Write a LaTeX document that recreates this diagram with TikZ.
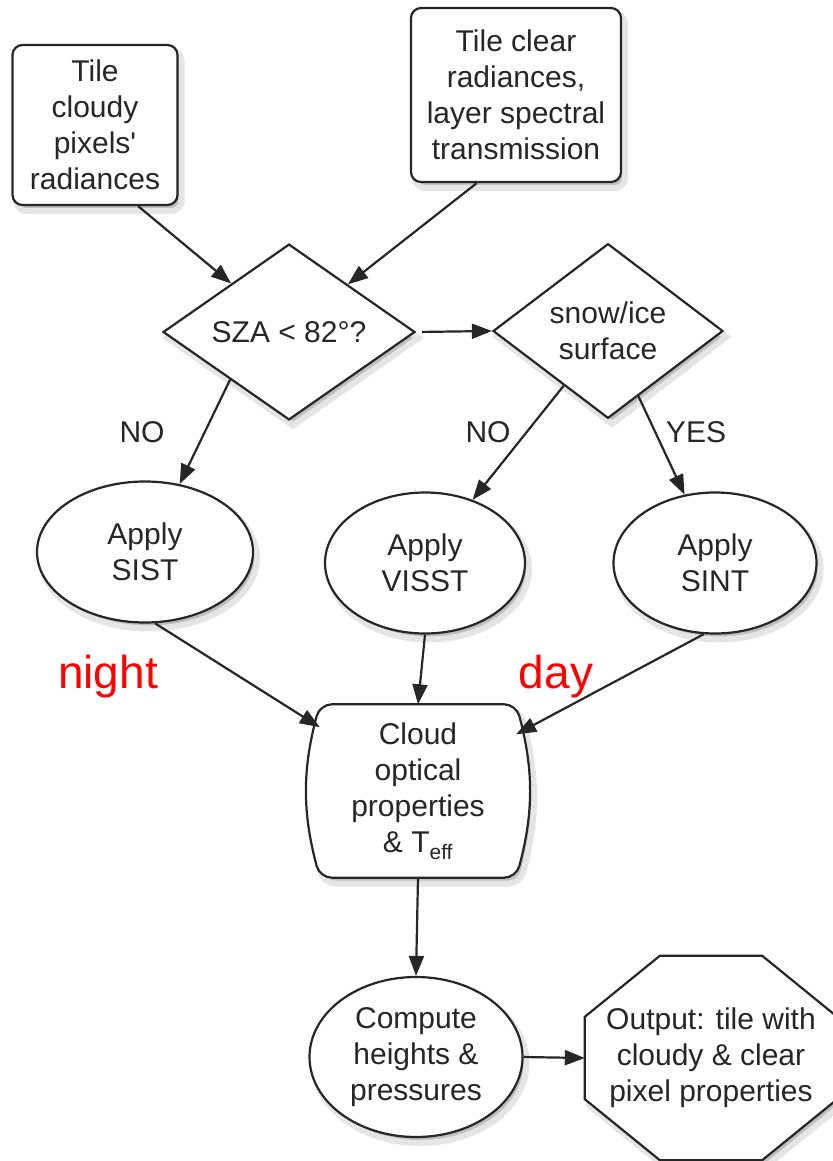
\documentclass[tikz,border=0pt]{standalone}
\usepackage{fontspec}
\setmainfont{Liberation Sans}
\newfontfamily\plainfont{Liberation Sans}
\usepackage{tikz}
\usetikzlibrary{arrows.meta, positioning, shapes.geometric, backgrounds, shadows}

\begin{document}
\begin{tikzpicture}[x=1pt, y=-1pt,
    every node/.style={font=\fontsize{30}{36}\selectfont, text=black!85, align=center, inner sep=0pt},
    shadowed/.style={drop shadow={shadow xshift=4pt, shadow yshift=-6pt, fill=black!25, draw=black!10, line width=6pt, opacity=1}},
    outline/.style={draw=black!85, line width=2.2pt, fill=white, shadowed},
    inbox/.style={outline, rounded corners=10pt},
    decision/.style={outline, diamond},
    algo/.style={outline, ellipse, minimum width=203pt, minimum height=141pt},
    arr/.style={-{Triangle[length=20pt, width=15pt]}, line width=2.2pt, black!85},
    timelabel/.style={font=\fontsize{46}{50}\selectfont, text=red, anchor=base},
]
\useasboundingbox (0,0) rectangle (832,1161);

% inputs
\node[inbox, minimum width=165pt, minimum height=160pt] (cloudy) at (95,125) {Tile\\cloudy\\pixels{\plainfont'}\\radiances};
\node[inbox, minimum width=210pt, minimum height=174pt] (clear) at (516,95) {Tile clear\\radiances,\\layer spectral\\transmission};

% tests
\node[decision, minimum width=252pt, minimum height=170pt] (sza) at (289,332) {SZA < 82°?};
\node[decision, minimum width=230pt, minimum height=138pt] (snow) at (608,331) {snow/ice\\surface};

\node (nosza) at (142,432) {NO};
\node (nosnow) at (488,432) {NO};
\node (yessnow) at (696,432) {YES};

% retrievals
\node[algo, minimum width=216pt] (sist) at (145,552) {Apply\\SIST};
\node[algo, minimum width=200pt] (visst) at (425,563) {Apply\\VISST};
\node[algo] (sint) at (715,563) {Apply\\SINT};

\node[timelabel] (night) at (108,688) {night};
\node[timelabel] (day) at (556,688) {day};

\node[minimum width=196pt, minimum height=173pt] (props) at (418,791) {Cloud\\optical\\properties\\\& T\textsubscript{eff}};

% output
\node[algo, minimum width=213pt, minimum height=160pt] (heights) at (416,1057) {Compute\\heights \&\\pressures};
\node[minimum width=252pt, minimum height=204pt] (output) at (711,1058) {Output: tile with\\cloudy \& clear\\pixel properties};

\begin{scope}[on background layer]
\draw[outline, rounded corners=12pt] (props.north west) to[bend right=15] (props.south west)
  -- (props.south east) to[bend right=15] (props.north east) -- cycle;
\draw[outline] ([xshift=75pt]output.north west) -- ([xshift=-75pt]output.north east)
  -- ([yshift=-61pt]output.north east) -- ([yshift=61pt]output.south east)
  -- ([xshift=-75pt]output.south east) -- ([xshift=75pt]output.south west)
  -- ([yshift=61pt]output.south west) -- ([yshift=-61pt]output.north west) -- cycle;
\end{scope}

\draw[arr] (cloudy.-62) -- (sza.140);
\draw[arr] (clear.-114) -- (sza.39);
\draw[arr, shorten <=6pt] (sza.east) -- (snow.west);
\draw[arr] (sza.-141) -- (sist.63);
\draw[arr] (snow.-129) -- (visst.53);
\draw[arr] (snow.-65) -- (sint.114);
\draw[arr] (sist.-82) -- (props.147);
\draw[arr] (visst.south) -- (props.north);
\draw[arr] (sint.-99) -- (props.30);
\draw[arr] (props.south) -- (heights.north);
\draw[arr] (heights.east) -- (output.west);

\end{tikzpicture}
\end{document}
